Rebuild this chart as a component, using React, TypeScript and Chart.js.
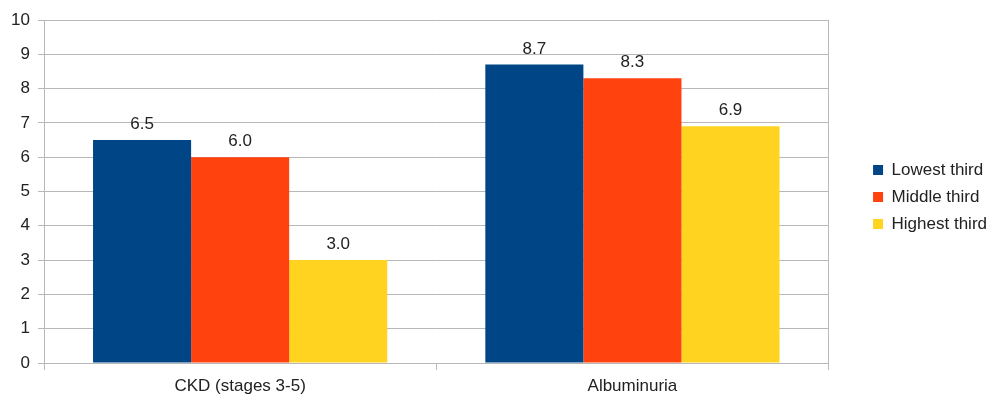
import React, { useEffect, useRef } from "react";
import { Chart, registerables } from "chart.js";

Chart.register(...registerables);

const categories = ["CKD (stages 3-5)", "Albuminuria"];
const seriesNames = ["Lowest third", "Middle third", "Highest third"];
const lowest = [6.5, 8.7];
const middle = [6.0, 8.3];
const highest = [3.0, 6.9];
const colors = ["#004586", "#ff420e", "#ffd320"];

const FONT = "'Liberation Sans', Arial, sans-serif";
const FS = 17;
const TEXT = "#222";
const GRID = "#b8b8b8";

const valueLabels = {
  id: "valueLabels",
  afterDatasetsDraw(chart: any) {
    const ctx = chart.ctx;
    ctx.save();
    ctx.font = `${FS}px ${FONT}`;
    ctx.fillStyle = TEXT;
    ctx.textAlign = "center";
    ctx.textBaseline = "alphabetic";
    chart.data.datasets.forEach((ds: any, i: number) => {
      const meta = chart.getDatasetMeta(i);
      meta.data.forEach((bar: any, j: number) => {
        ctx.fillText(Number(ds.data[j]).toFixed(1), bar.x, bar.y - 11);
      });
    });
    ctx.restore();
  },
};

// center the legend column on the middle of the canvas (as in the reference)
const legendShift = {
  id: "legendShift",
  afterLayout(chart: any) {
    const lg = chart.legend;
    if (lg) lg.bottom = lg.bottom - 22;
  },
};

export default function App() {
  const ref = useRef<HTMLCanvasElement>(null);
  useEffect(() => {
    if (!ref.current) return;
    const series = [lowest, middle, highest];
    const chart = new Chart(ref.current, {
      type: "bar",
      data: {
        labels: categories,
        datasets: series.map((d, i) => ({
          label: seriesNames[i],
          data: d,
          backgroundColor: colors[i],
          borderWidth: 0,
          categoryPercentage: 0.75,
          barPercentage: 1,
          yAxisID: "y",
        })),
      },
      options: {
        responsive: false,
        animation: false,
        layout: { padding: { top: 20, left: 0, right: -7, bottom: 0 } },
        plugins: {
          tooltip: { enabled: false },
          legend: {
            position: "right",
            labels: {
              boxWidth: 10,
              boxHeight: 10,
              padding: 10,
              color: TEXT,
              font: { size: FS, family: FONT },
            },
          },
        },
        scales: {
          x: {
            afterFit: (s: any) => {
              s.height = 33;
            },
            grid: {
              offset: true,
              drawOnChartArea: false,
              tickLength: 7,
              color: GRID,
            },
            border: { color: GRID },
            ticks: { color: TEXT, font: { size: FS, family: FONT }, padding: 6 },
          },
          y: {
            min: 0,
            max: 10,
            afterFit: (s: any) => {
              s.width = 44;
            },
            ticks: { stepSize: 1, color: TEXT, font: { size: FS, family: FONT }, padding: 8 },
            grid: { color: GRID, tickLength: 6 },
            border: { color: GRID },
          },
          y2: {
            position: "right",
            min: 0,
            max: 10,
            afterFit: (s: any) => {
              s.width = 34.5;
            },
            ticks: { display: false },
            grid: { drawOnChartArea: false, tickLength: 0 },
            border: { color: GRID },
          },
        },
      },
      plugins: [valueLabels, legendShift],
    });
    return () => chart.destroy();
  }, []);
  return (
    <div style={{ position: "absolute", left: 0, top: 0, width: 990, height: 396, background: "#fff" }}>
      <canvas ref={ref} width={990} height={396} />
    </div>
  );
}
